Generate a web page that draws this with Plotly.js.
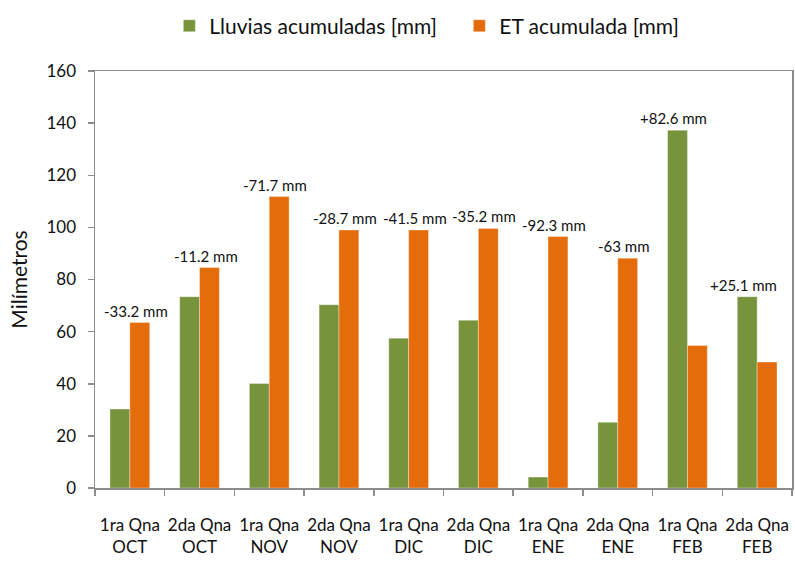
<!DOCTYPE html>
<html>
<head>
<meta charset="utf-8">
<script src="https://cdn.plot.ly/plotly-3.0.1.min.js"></script>
<style>html,body{margin:0;padding:0;background:#fff;}#chart{width:795px;height:561px;}</style>
</head>
<body>
<div id="chart"></div>
<script>
var quincenas = ["1ra Qna", "2da Qna", "1ra Qna", "2da Qna", "1ra Qna", "2da Qna", "1ra Qna", "2da Qna", "1ra Qna", "2da Qna"];
var meses = ["OCT", "OCT", "NOV", "NOV", "DIC", "DIC", "ENE", "ENE", "FEB", "FEB"];
var lluvias = [30.3, 73.4, 40.1, 70.3, 57.5, 64.4, 4.2, 25.2, 137.3, 73.4];
var et = [63.5, 84.6, 111.8, 99.0, 99.0, 99.6, 96.5, 88.2, 54.7, 48.3];
var balance = ["-33.2 mm", "-11.2 mm", "-71.7 mm", "-28.7 mm", "-41.5 mm", "-35.2 mm", "-92.3 mm", "-63 mm", "+82.6 mm", "+25.1 mm"];

var cats = quincenas.map(function (q, i) { return q + "<br>" + meses[i]; });
var FONT = "Lato, 'Open Sans', sans-serif";

var traces = [
  {
    type: "bar", name: "Lluvias acumuladas [mm]", x: cats, y: lluvias,
    marker: { color: "#77933C", line: { color: "rgba(255,255,255,0.35)", width: 1 } },
    hoverinfo: "y"
  },
  {
    type: "bar", name: "ET acumulada [mm]", x: cats, y: et,
    marker: { color: "#E46C0A", line: { color: "rgba(255,255,255,0.35)", width: 1 } },
    hoverinfo: "y"
  }
];

var annotations = balance.map(function (t, i) {
  var greenTaller = lluvias[i] > et[i];
  return {
    x: i + (greenTaller ? -0.143 : 0.143), xref: "x",
    y: Math.max(lluvias[i], et[i]), yref: "y",
    text: t, showarrow: false, yanchor: "bottom", xanchor: "center",
    xshift: -4, yshift: 1,
    font: { family: FONT, size: 15, color: "#111" }
  };
});

var layout = {
  width: 795, height: 561,
  margin: { l: 95, r: 3, t: 71, b: 73 },
  paper_bgcolor: "#fff", plot_bgcolor: "#fff",
  font: { family: FONT, color: "#111" },
  barmode: "group", bargap: 0.43, bargroupgap: 0,
  showlegend: true,
  legend: {
    orientation: "h", x: 0.213, xref: "container", xanchor: "left", y: 0.99, yref: "container", yanchor: "top",
    font: { family: FONT, size: 21, color: "#111" },
    itemwidth: 30, traceorder: "normal", entrywidth: 245
  },
  xaxis: {
    type: "category", showline: true, linecolor: "#8c8c8c", linewidth: 1.5, mirror: true,
    ticks: "outside", tickson: "boundaries", ticklen: 6, tickcolor: "#8c8c8c", tickwidth: 1.5,
    showgrid: false, zeroline: false, tickangle: 0,
    tickfont: { family: FONT, size: 17, color: "#111" },
    ticklabelstandoff: 21
  },
  yaxis: {
    range: [0, 160], dtick: 20, showline: true, linecolor: "#8c8c8c", linewidth: 1.5, mirror: true,
    ticks: "outside", ticklen: 6, tickcolor: "#8c8c8c", tickwidth: 1.5,
    showgrid: false, zeroline: false,
    tickfont: { family: FONT, size: 17, color: "#111" },
    ticklabelstandoff: 8,
    title: { text: "Milímetros", font: { family: FONT, size: 21, color: "#111" }, standoff: 13 }
  },
  annotations: annotations
};

Plotly.newPlot("chart", traces, layout, { displayModeBar: false, staticPlot: true });
</script>
</body>
</html>
